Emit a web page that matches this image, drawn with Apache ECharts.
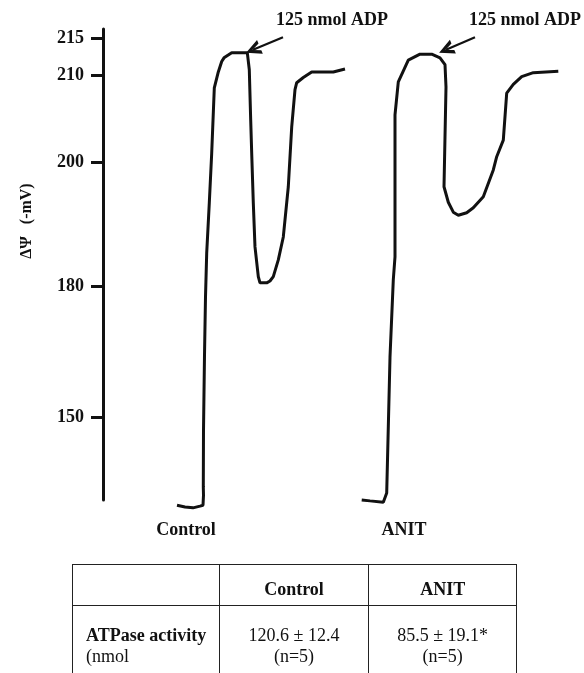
<!DOCTYPE html>
<html>
<head>
<meta charset="utf-8">
<script src="https://cdn.jsdelivr.net/npm/echarts@6/dist/echarts.min.js"></script>
<style>
  html, body { margin: 0; padding: 0; background: #fff; }
  #chart { position: absolute; left: 0; top: 0; width: 584px; height: 673px; }
  #tbl {
    position: absolute; left: 72px; top: 564px; width: 445px;
    border-collapse: collapse; font-family: 'Liberation Serif', 'Times New Roman', serif;
    font-size: 18px; color: #111;
  }
  #tbl td { border: 1.5px solid #222; padding: 0; }
  #tbl tr.head td { height: 40px; text-align: center; vertical-align: bottom; font-weight: bold; }
  #tbl tr.head td span { display: block; padding-bottom: 5px; }
  #tbl tr.body td { height: 90px; vertical-align: top; line-height: 21px; padding-top: 19px; text-align: center; }
  #tbl tr.body td.first { text-align: left; padding-left: 13px; }
</style>
</head>
<body>
<div id="chart"></div>
<table id="tbl">
  <colgroup><col style="width:147px"><col style="width:150px"><col style="width:148px"></colgroup>
  <tr class="head"><td></td><td><span>Control</span></td><td><span>ANIT</span></td></tr>
  <tr class="body">
    <td class="first"><b>ATPase activity</b><br>(nmol</td>
    <td>120.6 ± 12.4<br>(n=5)</td>
    <td>85.5 ± 19.1*<br>(n=5)</td>
  </tr>
</table>
<script>
// y axis tick values (mV) and the hand-drawn, non-linear scale they sit on
const tickValues = [150, 180, 200, 210, 215]
const tickScale = [0, 131, 255, 342, 379]

// traces: time (arbitrary units) and membrane potential (-mV)
const controlTime = [74, 82, 90, 97, 100, 100.5, 100.3, 100.5, 101.5, 102.5, 103.7, 106.3, 108.7, 111.3, 115.3, 118.7, 121, 128.7, 144.3, 146.3, 147.7, 148.7, 150.3, 152, 155.3, 157, 163.7, 167, 170.3, 175.3, 180.3, 185.3, 188.7, 192, 193.7, 200.3, 208.7, 230.3, 242]
const controlMV = [129.8, 129.4, 129.2, 129.6, 129.8, 132.1, 134, 147, 164.2, 177.5, 185.3, 193.4, 201, 208.5, 210.4, 211.8, 212.3, 213, 213, 210.7, 204.8, 201, 193.4, 186.3, 181.5, 180.5, 180.5, 180.8, 181.5, 184.2, 187.9, 196, 204, 208.3, 209.1, 209.7, 210.4, 210.4, 210.8]

const anitTime = [258.7, 267, 280.3, 283.7, 287, 290.3, 292, 292, 295.3, 305.3, 317, 328.7, 337, 342, 343, 342, 341, 345.3, 350.3, 355.3, 363.7, 370.3, 380.3, 390.3, 393.7, 400.3, 403.7, 410.3, 418.7, 430.3, 455.3]
const anitMV = [131, 130.8, 130.5, 132.6, 163.7, 181, 184.7, 205.4, 209.2, 212, 212.8, 212.8, 212.3, 211.4, 208.6, 202.9, 196, 193.5, 191.9, 191.4, 191.8, 192.6, 194.4, 198.7, 200.6, 202.5, 207.9, 208.9, 209.8, 210.3, 210.5]

const annotation = '125 nmol ADP'

// piecewise linear mapping mV -> axis position
function toPos(mv) {
  let i = 0
  if (mv <= tickValues[0]) i = 0
  else if (mv >= tickValues[tickValues.length - 1]) i = tickValues.length - 2
  else while (mv > tickValues[i + 1]) i++
  const v0 = tickValues[i], v1 = tickValues[i + 1]
  const p0 = tickScale[i], p1 = tickScale[i + 1]
  return p0 + (mv - v0) * (p1 - p0) / (v1 - v0)
}

const tickPos = tickValues.map(toPos)
const font = "'Liberation Serif', 'Times New Roman', serif"
const arrowHead = 'path://M5,0 L10,12 L7.4,12 L5,5.5 L2.6,12 L0,12 Z'

function arrow(from, to) {
  return {
    silent: true,
    symbol: ['none', arrowHead],
    symbolSize: [15, 15],
    lineStyle: { color: '#111', width: 2.2, type: 'solid' },
    label: { show: false },
    data: [[{ coord: [from[0], toPos(from[1])] }, { coord: [to[0], toPos(to[1])] }]]
  }
}

const chart = echarts.init(document.getElementById('chart'))
const option = {
  animation: false,
  backgroundColor: '#fff',
  grid: { left: 103, right: 0, top: 29, bottom: 173 },
  xAxis: { type: 'value', min: 0, max: 481, show: false },
  yAxis: {
    type: 'value',
    min: toPos(131),
    max: toPos(216.2),
    axisLine: { show: true, lineStyle: { color: '#111', width: 3 } },
    axisTick: { show: true, inside: false, length: 12, lineStyle: { color: '#111', width: 3 }, customValues: tickPos },
    axisLabel: {
      customValues: tickPos,
      margin: 19,
      color: '#111',
      fontFamily: font,
      fontWeight: 'bold',
      fontSize: 18,
      formatter: function (v) {
        let best = 0
        tickPos.forEach((p, i) => { if (Math.abs(p - v) < Math.abs(tickPos[best] - v)) best = i })
        return String(tickValues[best])
      }
    },
    splitLine: { show: false }
  },
  series: [
    {
      name: 'Control',
      type: 'line',
      data: controlTime.map((t, i) => [t, toPos(controlMV[i])]),
      symbol: 'none',
      clip: false,
      lineStyle: { color: '#111', width: 3 },
      markLine: arrow([180, 215.1], [150, 213.4])
    },
    {
      name: 'ANIT',
      type: 'line',
      data: anitTime.map((t, i) => [t, toPos(anitMV[i])]),
      symbol: 'none',
      clip: false,
      lineStyle: { color: '#111', width: 3 },
      markLine: arrow([372, 215.1], [343, 213.4])
    }
  ],
  graphic: [
    { type: 'text', left: 276, top: 11, style: { text: annotation, font: 'bold 18px ' + font, fill: '#111' } },
    { type: 'text', left: 469, top: 11, style: { text: annotation, font: 'bold 18px ' + font, fill: '#111' } },
    { type: 'text', x: 186, y: 530, style: { text: 'Control', font: 'bold 18px ' + font, fill: '#111', align: 'center', verticalAlign: 'middle' } },
    { type: 'text', x: 404, y: 530, style: { text: 'ANIT', font: 'bold 18px ' + font, fill: '#111', align: 'center', verticalAlign: 'middle' } },
    { type: 'text', x: 27, y: 221, rotation: Math.PI / 2, style: { text: 'ΔΨ   (-mV)', font: 'bold 16px ' + font, fill: '#111', align: 'center', verticalAlign: 'middle' } }
  ]
}
chart.setOption(option)
</script>
</body>
</html>
